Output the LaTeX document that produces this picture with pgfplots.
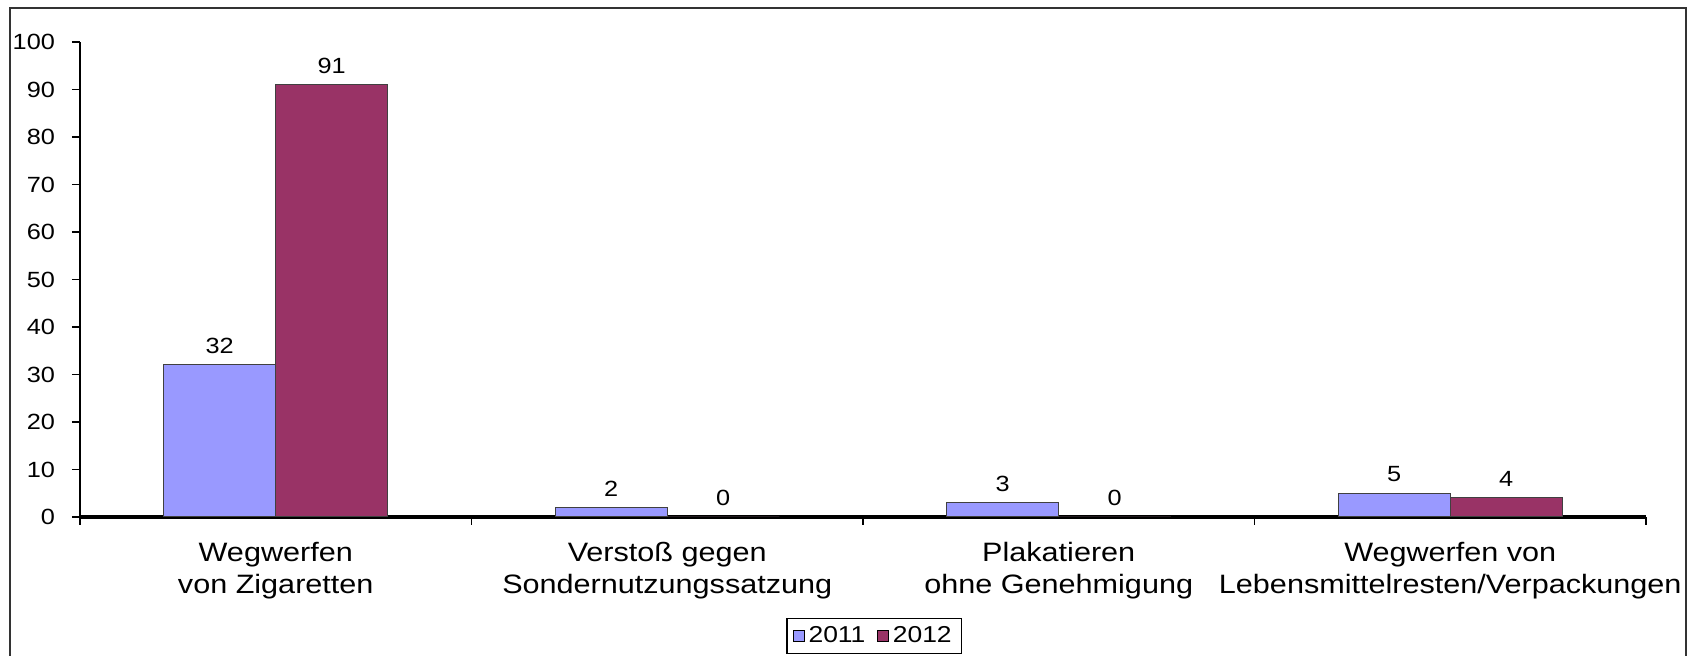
\documentclass[border=0pt]{standalone}
\usepackage{fontspec}
\setmainfont{Liberation Sans}[FakeStretch=1.15]
\usepackage{pgfplots}
\pgfplotsset{compat=1.18}
\definecolor{c2011}{RGB}{153,153,255}
\definecolor{c2012}{RGB}{153,51,102}
\pgfplotsset{
  sqlegend/.style={legend image code/.code={
    \draw[##1, draw=black, line width=0.5pt] (0pt,-2.6pt) rectangle (5.2pt,2.6pt);}},
}

\begin{document}
\begin{tikzpicture}
\useasboundingbox (-40pt,-69.5pt) rectangle (809pt,258.5pt);
% outer chart frame (bottom edge lies outside the picture)
\draw[line width=1pt, black!80] (-35pt,-90pt) -- (-35pt,254.5pt) -- (803pt,254.5pt) -- (803pt,-90pt);
\begin{axis}[
    at={(0pt,0pt)}, anchor=south west,
    scale only axis,
    width=783pt, height=237.5pt,
    ybar=0pt, bar width=56pt,
    xmin=-0.5, xmax=3.5,
    ymin=0, ymax=100,
    axis x line*=bottom, axis y line*=left,
    axis line style={-},
    x axis line style={line width=1.6pt},
    y axis line style={line width=1pt},
    tick align=outside,
    major tick length=4pt,
    ytick={0,10,...,100},
    ytick style={black, line width=0.8pt},
    yticklabel style={font=\fontsize{11}{13}\selectfont, xshift=-5pt},
    xtick={-0.5,0.5,1.5,2.5,3.5},
    xticklabels={,,,,},
    xtick style={black, line width=0.8pt},
    extra x ticks={0,1,2,3},
    extra x tick labels={{Wegwerfen\\von Zigaretten},{Verstoß gegen\\Sondernutzungssatzung},{Plakatieren\\ohne Genehmigung},{Wegwerfen von\\Lebensmittelresten/Verpackungen}},
    extra x tick style={tick style={draw=none},
      tick label style={font=\fontsize{13.3}{16}\selectfont, align=center, yshift=-5pt}},
    /pgf/number format/assume math mode=true,
    nodes near coords,
    every node near coord/.append style={font=\fontsize{11}{13}\selectfont, yshift=2pt, black},
    legend columns=2,
    legend style={at={(0.5073,-0.2505)}, anchor=center, draw=black, line width=0.7pt,
      font=\fontsize{11.5}{13}\selectfont, inner xsep=3pt, inner ysep=2pt,
      /tikz/every even column/.append style={column sep=4pt}},
]
\addplot[fill=c2011, draw=black!75, line width=0.5pt, sqlegend] coordinates {(0,32) (1,2) (2,3) (3,5)};
\addplot[fill=c2012, draw=black!75, line width=0.5pt, sqlegend] coordinates {(0,91) (1,0) (2,0) (3,4)};
\legend{2011,2012}
\end{axis}
\end{tikzpicture}
\end{document}
